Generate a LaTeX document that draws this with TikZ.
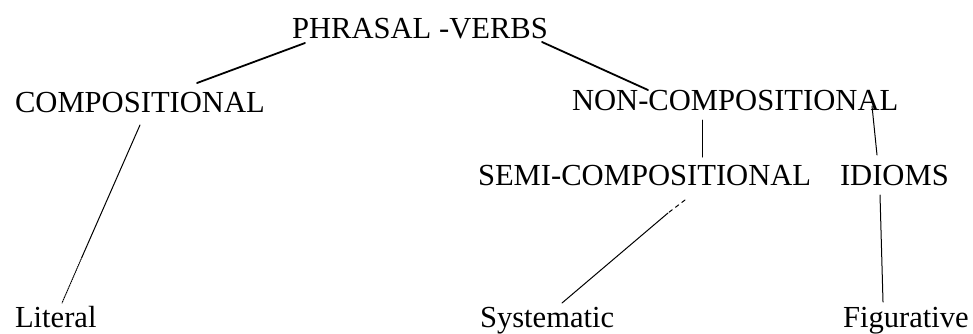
\documentclass[tikz,border=0pt]{standalone}
\usepackage{fontspec}
\setmainfont{Liberation Serif}
\begin{document}
\begin{tikzpicture}[x=1pt,y=-1pt,
  term/.style={anchor=base west,inner sep=0pt,outer sep=0pt,
    font=\fontsize{30.6}{36}\selectfont},
  branch/.style={line width=1.8pt,line cap=round},
  twig/.style={line width=1pt,line cap=round}]
\useasboundingbox (0,0) rectangle (973,333);

% terms of the hierarchy
\node[term] (pv)   at (292,38)  {PHRASAL -VERBS};
\node[term] (comp) at (15,112)  {COMPOSITIONAL};
\node[term] (nonc) at (572,110) {NON-COMPOSITIONAL};
\node[term] (semi) at (478,185) {SEMI-COMPOSITIONAL};
\node[term] (idi)  at (840,185) {IDIOMS};
\node[term] (lit)  at (15,327)  {Literal};
\node[term] (sys)  at (480,327) {Systematic};
\node[term] (fig)  at (843,327) {Figurative};

% top level
\draw[branch] ([shift={(13,5)}]pv.base west) -- ([shift={(182,-29)}]comp.base west);
\draw[branch] ([shift={(250,4)}]pv.base west) -- ([shift={(76,-20)}]nonc.base west);

% second level
\draw[twig] ([shift={(130,10)}]nonc.base west) -- ([shift={(224,-28)}]semi.base west);
\draw[twig] ([shift={(300,-4)}]nonc.base west) -- ([shift={(37,-30)}]idi.base west);

% leaves
\coordinate (litmid) at ([shift={(67,145)}]comp.base west);
\draw[twig] ([shift={(125,13)}]comp.base west) -- (litmid);
\draw[twig,densely dotted] (litmid) -- ([shift={(47,-24)}]lit.base west);

\coordinate (sysmid) at ([shift={(190,28)}]semi.base west);
\draw[twig,dash pattern=on 4pt off 4pt] ([shift={(207,15)}]semi.base west) -- (sysmid);
\draw[twig] (sysmid) -- ([shift={(82,-24)}]sys.base west);

\draw[twig] ([shift={(40,10)}]idi.base west) -- ([shift={(40,-25)}]fig.base west);
\end{tikzpicture}
\end{document}
